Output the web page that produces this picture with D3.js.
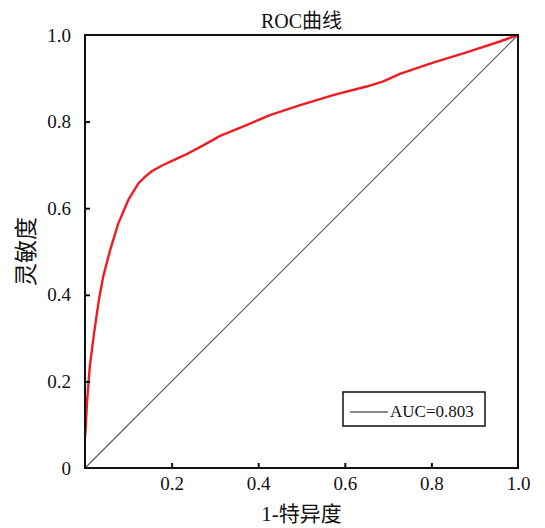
<!DOCTYPE html>
<html>
<head>
<meta charset="utf-8">
<script src="https://cdn.jsdelivr.net/npm/d3@7"></script>
<style>
  html, body { margin: 0; padding: 0; background: #fff; }
  svg { display: block; }
  text { font-family: "Liberation Serif", "Noto Sans CJK SC", serif; fill: #111; }
</style>
</head>
<body>
<svg id="chart" width="545" height="528"></svg>
<script>
// ROC curve: false positive rate (1 - specificity) vs. true positive rate (sensitivity)
const fpr = [0, 0.0015, 0.005, 0.011, 0.021, 0.032, 0.042, 0.058, 0.077, 0.1, 0.123, 0.139, 0.155, 0.177, 0.196, 0.231, 0.273, 0.312, 0.342, 0.373, 0.427, 0.497, 0.573, 0.65, 0.689, 0.727, 0.804, 0.881, 0.958, 1];
const tpr = [0.07, 0.09, 0.157, 0.234, 0.312, 0.388, 0.442, 0.503, 0.565, 0.619, 0.657, 0.673, 0.686, 0.698, 0.707, 0.723, 0.745, 0.767, 0.779, 0.792, 0.815, 0.838, 0.861, 0.881, 0.893, 0.91, 0.936, 0.96, 0.985, 1];
const xTicks = [0.2, 0.4, 0.6, 0.8, 1.0];
const yTicks = [0, 0.2, 0.4, 0.6, 0.8, 1.0];
const aucValue = 0.803;
const titleText = "ROC曲线";
const xLabel = "1-特异度";
const yLabel = "灵敏度";

const svg = d3.select("#chart");
const margin = { left: 85, right: 27, top: 35, bottom: 60 };
const W = 545, H = 528;
const x = d3.scaleLinear().domain([0, 1]).range([margin.left, W - margin.right]);
const y = d3.scaleLinear().domain([0, 1]).range([H - margin.bottom, margin.top]);

// reference diagonal
svg.append("line")
  .attr("x1", x(0)).attr("y1", y(0)).attr("x2", x(1)).attr("y2", y(1))
  .attr("stroke", "#4a585e").attr("stroke-width", 1.1);

// ROC curve
const pts = fpr.map((f, i) => [f, tpr[i]]);
svg.append("path")
  .datum(pts)
  .attr("fill", "none")
  .attr("stroke", "#f01c24")
  .attr("stroke-width", 2.4)
  .attr("stroke-linejoin", "round")
  .attr("d", d3.line().x(d => x(d[0])).y(d => y(d[1])));

// axes with inward ticks
const fmt = d => d === 0 ? "0" : d3.format(".1f")(d);
const gx = svg.append("g")
  .attr("transform", `translate(0,${y(0)})`)
  .call(d3.axisBottom(x).tickValues(xTicks).tickFormat(fmt).tickSizeInner(-5).tickSizeOuter(0).tickPadding(9));
const gy = svg.append("g")
  .attr("transform", `translate(${x(0)},0)`)
  .call(d3.axisLeft(y).tickValues(yTicks).tickFormat(fmt).tickSizeInner(-5).tickSizeOuter(0).tickPadding(14));
[gx, gy].forEach(g => {
  g.select(".domain").remove();
  g.selectAll(".tick line").attr("stroke", "#111").attr("stroke-width", 2);
  g.selectAll(".tick text").attr("font-size", 19).attr("fill", "#111")
    .style("font-family", "'Liberation Serif', serif");
});
// hide ticks at the frame corners
gx.selectAll(".tick").filter(d => d === 1).select("line").remove();
gy.selectAll(".tick").filter(d => d === 0 || d === 1).select("line").remove();

// frame
svg.append("rect")
  .attr("x", x(0)).attr("y", y(1))
  .attr("width", x(1) - x(0)).attr("height", y(0) - y(1))
  .attr("fill", "none").attr("stroke", "#111").attr("stroke-width", 2);

// title and axis labels
svg.append("text").attr("x", (x(0) + x(1)) / 2).attr("y", 28)
  .attr("text-anchor", "middle").attr("font-size", 20).text(titleText);
svg.append("text").attr("x", (x(0) + x(1)) / 2).attr("y", 521)
  .attr("text-anchor", "middle").attr("font-size", 21).text(xLabel);
svg.append("text")
  .attr("transform", `translate(34,${(y(0) + y(1)) / 2}) rotate(-90)`)
  .attr("text-anchor", "middle").attr("font-size", 23).text(yLabel);

// legend
const lg = svg.append("g");
lg.append("rect").attr("x", 343).attr("y", 392).attr("width", 142).attr("height", 34)
  .attr("fill", "#fff").attr("stroke", "#111").attr("stroke-width", 1.5);
lg.append("line").attr("x1", 350).attr("x2", 388).attr("y1", 412).attr("y2", 412)
  .attr("stroke", "#111").attr("stroke-width", 1.2);
lg.append("text").attr("x", 390).attr("y", 417).attr("font-size", 17)
  .text("AUC=" + d3.format(".3f")(aucValue));
</script>
</body>
</html>
